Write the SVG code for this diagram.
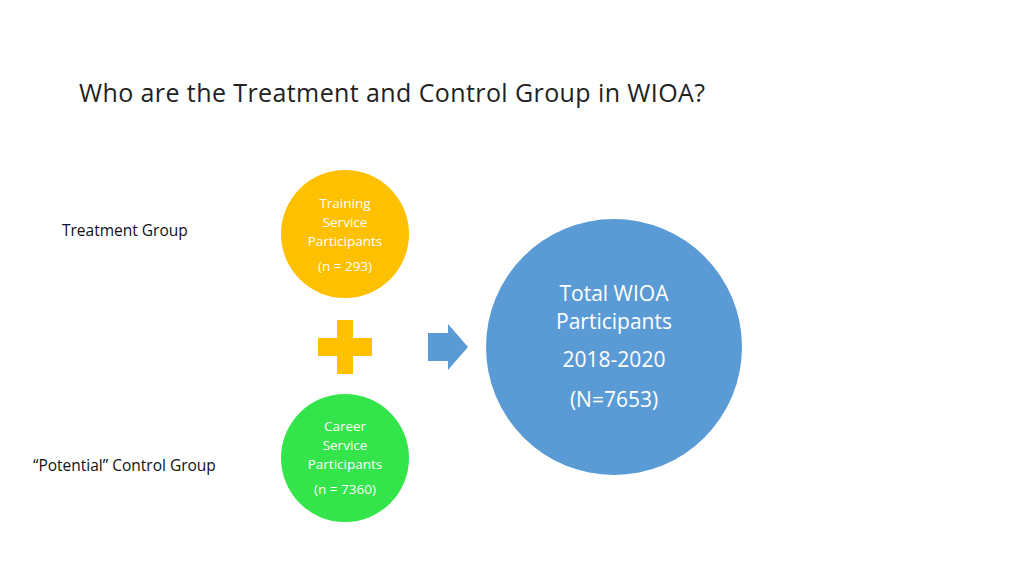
<svg xmlns="http://www.w3.org/2000/svg" width="1024" height="576" viewBox="0 0 1024 576">
<style>
text{font-family:"Open Sans","Liberation Sans",sans-serif}
.s{font-size:13.5px;fill:#fff;text-anchor:middle}
.b{font-size:21px;fill:#fff;text-anchor:middle}
.l{font-size:15.5px;fill:#111}
</style>
<rect width="1024" height="576" fill="#fff"/>
<text x="79" y="102" font-size="25" fill="#222" textLength="626">Who are the Treatment and Control Group in WIOA?</text>
<g id="treatment-label"><text class="l" x="62" y="236">Treatment Group</text></g>
<g id="control-label"><text class="l" x="33" y="471">“Potential” Control Group</text></g>
<g id="training"><circle cx="345" cy="234" r="64" fill="#FFC000"/>
<text class="s" x="345" y="208">Training</text><text class="s" x="345" y="227">Service</text><text class="s" x="345" y="246">Participants</text><text class="s" x="345" y="271">(n = 293)</text></g>
<g id="career"><circle cx="345" cy="458" r="64" fill="#33E54A"/>
<text class="s" x="345" y="431">Career</text><text class="s" x="345" y="450">Service</text><text class="s" x="345" y="469">Participants</text><text class="s" x="345" y="494">(n = 7360)</text></g>
<g id="plus"><path d="M337 320h16v18h19v18h-19v18h-16v-18h-19v-18h19z" fill="#FFC000"/></g>
<g id="total"><circle cx="614" cy="347" r="128" fill="#5B9BD5"/>
<text class="b" x="614" y="301">Total WIOA</text><text class="b" x="614" y="329">Participants</text><text class="b" x="614" y="367">2018-2020</text><text class="b" x="614" y="407">(N=7653)</text></g>
<g id="connectors"><path d="M428 333h20v-9l20 23-20 23v-9h-20z" fill="#5B9BD5"/></g>
</svg>
